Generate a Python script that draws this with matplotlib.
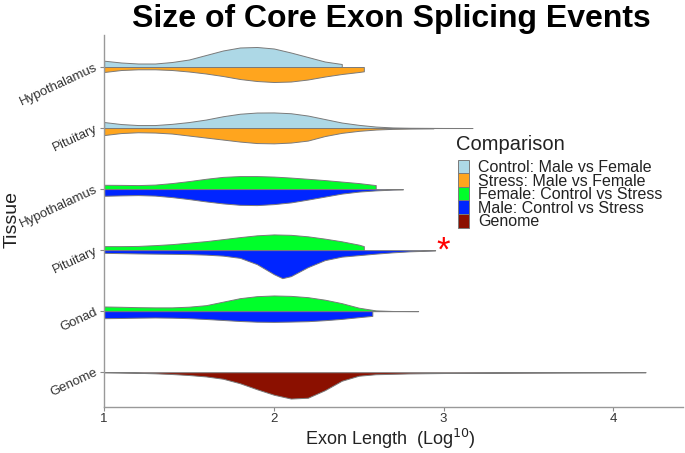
import numpy as np
import matplotlib
matplotlib.use("Agg")
from matplotlib import pyplot as plt
from matplotlib.patches import Patch

# rows from bottom to top
tissues = ["Genome", "Gonad", "Pituitary", "Hypothalamus", "Pituitary", "Hypothalamus"]
comparisons = ["Control: Male vs Female", "Stress: Male vs Female",
               "Female: Control vs Stress", "Male: Control vs Stress", "Genome"]
colors = ["#add8e6", "#ffa51e", "#00ff2a", "#0025ff", "#8b1000"]

hyp_mf_ctrl_x = [1.0, 1.1, 1.2, 1.3, 1.4, 1.5, 1.6, 1.7, 1.8, 1.9, 2.0, 2.1, 2.2, 2.3, 2.4]
hyp_mf_ctrl_d = [6.3, 4.5, 3.5, 3.5, 5, 7.5, 12, 16.5, 19.5, 20, 18.5, 14.5, 10, 5.5, 3]
hyp_mf_stress_x = [1.0, 1.1, 1.2, 1.3, 1.4, 1.5, 1.6, 1.7, 1.8, 1.9, 2.0, 2.1, 2.2, 2.3, 2.4, 2.5, 2.53]
hyp_mf_stress_d = [5, 3, 2.3, 2.3, 3, 4.5, 6.5, 9, 12, 14, 15, 14.5, 12.5, 9.5, 7, 5, 4.3]

pit_mf_ctrl_x = [1.0, 1.1, 1.2, 1.3, 1.4, 1.5, 1.6, 1.7, 1.8, 1.9, 2.0, 2.1, 2.2, 2.3, 2.4, 2.5, 2.6, 2.7, 2.8, 2.9, 3.0, 3.17]
pit_mf_ctrl_d = [6, 4, 3, 3, 4.2, 6, 8.5, 11.8, 14.3, 15.5, 15.6, 14.8, 12.5, 9, 5.5, 3.2, 1.5, 0.6, 0.3, 0.2, 0.1, 0.05]
pit_mf_stress_x = [1.0, 1.1, 1.2, 1.3, 1.4, 1.5, 1.6, 1.7, 1.8, 1.9, 2.0, 2.1, 2.2, 2.3, 2.4, 2.5, 2.6, 2.7, 2.8, 2.94]
pit_mf_stress_d = [7, 5, 4.2, 4.5, 5.5, 7.5, 9.5, 11.5, 13.5, 15, 15.3, 14.5, 12.5, 8, 4.8, 2.8, 1.5, 0.8, 0.5, 0.3]

hyp_f_cs_x = [1.0, 1.1, 1.2, 1.3, 1.4, 1.5, 1.6, 1.7, 1.8, 1.9, 2.0, 2.1, 2.2, 2.3, 2.4, 2.5, 2.6]
hyp_f_cs_d = [4.3, 4.2, 4, 4.5, 6, 8, 10.3, 12.2, 13, 13, 12.5, 11.5, 10.3, 9, 7.5, 6, 4]
hyp_m_cs_x = [1.0, 1.1, 1.2, 1.3, 1.4, 1.5, 1.6, 1.7, 1.8, 1.9, 2.0, 2.1, 2.2, 2.3, 2.4, 2.5, 2.6, 2.7, 2.76]
hyp_m_cs_d = [6.7, 6.3, 6, 6.5, 8, 10, 12.3, 14.3, 15.7, 16, 15, 13.3, 10.5, 7.5, 4.5, 2.5, 1.3, 0.5, 0.3]

pit_f_cs_x = [1.0, 1.1, 1.2, 1.3, 1.4, 1.5, 1.6, 1.7, 1.8, 1.9, 2.0, 2.1, 2.2, 2.3, 2.4, 2.5, 2.53]
pit_f_cs_d = [4, 4, 4.2, 5, 6, 7.5, 9, 11, 13, 14.8, 15.7, 15.3, 13.8, 11.5, 8.8, 5.5, 4]
pit_m_cs_x = [1.0, 1.1, 1.2, 1.3, 1.4, 1.5, 1.6, 1.7, 1.8, 1.9, 2.0, 2.05, 2.1, 2.2, 2.3, 2.4, 2.5, 2.6, 2.7, 2.8, 2.9, 2.95]
pit_m_cs_d = [2.7, 3, 3.3, 3.5, 3.7, 4, 4.5, 5.5, 7.7, 14, 24, 28, 26, 17, 10, 6.5, 5, 3.5, 2.2, 1.2, 0.6, 0.3]

gon_f_cs_x = [1.0, 1.1, 1.2, 1.3, 1.4, 1.5, 1.6, 1.7, 1.8, 1.9, 2.0, 2.1, 2.2, 2.3, 2.4, 2.5, 2.6, 2.7, 2.85]
gon_f_cs_d = [4.7, 4.4, 4, 3.8, 3.8, 4.5, 6, 9.5, 13, 15, 15.7, 15.3, 14, 11.5, 8, 3.5, 0.8, 0.2, 0.1]
gon_m_cs_x = [1.0, 1.1, 1.2, 1.3, 1.4, 1.5, 1.6, 1.7, 1.8, 1.9, 2.0, 2.1, 2.2, 2.3, 2.4, 2.5, 2.58]
gon_m_cs_d = [7, 6.8, 6.5, 6.3, 6.5, 7, 7.8, 8.8, 9.8, 10.5, 10.7, 10.4, 10, 9, 7.7, 6, 4.7]

genome_x = [1.0, 1.1, 1.2, 1.3, 1.4, 1.5, 1.6, 1.7, 1.8, 1.9, 2.0, 2.1, 2.2, 2.3, 2.4, 2.5, 2.6, 2.8, 3.0, 3.5, 4.0, 4.19]
genome_d = [0, 0.3, 0.6, 1.1, 1.8, 2.8, 4.2, 6.5, 11, 17, 22.5, 26.3, 25.5, 18, 8.5, 3.5, 2, 1.2, 0.8, 0.4, 0.1, 0]

# (row, side, colour index, x, density)   side +1 = above, -1 = below
halves = [
    (6, 1, 0, hyp_mf_ctrl_x, hyp_mf_ctrl_d),
    (6, -1, 1, hyp_mf_stress_x, hyp_mf_stress_d),
    (5, 1, 0, pit_mf_ctrl_x, pit_mf_ctrl_d),
    (5, -1, 1, pit_mf_stress_x, pit_mf_stress_d),
    (4, 1, 2, hyp_f_cs_x, hyp_f_cs_d),
    (4, -1, 3, hyp_m_cs_x, hyp_m_cs_d),
    (3, 1, 2, pit_f_cs_x, pit_f_cs_d),
    (3, -1, 3, pit_m_cs_x, pit_m_cs_d),
    (2, 1, 2, gon_f_cs_x, gon_f_cs_d),
    (2, -1, 3, gon_m_cs_x, gon_m_cs_d),
    (1, -1, 4, genome_x, genome_d),
]

plt.rcParams['font.family'] = ['Liberation Sans', 'DejaVu Sans']

fig = plt.figure(figsize=(6.85, 4.53), dpi=100)
ax = fig.add_axes([0.152, 0.1015, 0.845, 0.822])

scale = 1 / 61.0
for row, side, ci, xs, ds in halves:
    xs = np.array(xs)
    ds = np.array(ds) * scale
    ax.fill_between(xs, row, row + side * ds, facecolor=colors[ci],
                    edgecolor="#7a7a7a", linewidth=0.7, zorder=2)

# significance marker
ax.text(3.0, 2.98, "*", color="red", fontsize=25, ha="center", va="center")

ax.set_xlim(1.0, 4.41)
ax.set_ylim(0.43, 6.53)
ax.set_xticks([1, 2, 3, 4])
ax.set_yticks(range(1, 7))
ax.set_yticklabels(tissues, rotation=25, ha="right", va="center",
                   rotation_mode="anchor")
ax.tick_params(axis="both", colors="#888888", labelcolor="#333333", length=3)
ax.tick_params(axis="x", labelsize=9.5, pad=1)
ax.tick_params(axis="y", labelsize=9.5, pad=2)
for s in ["top", "right"]:
    ax.spines[s].set_visible(False)
for s in ["left", "bottom"]:
    ax.spines[s].set_color("#999999")
    ax.spines[s].set_linewidth(1.0)

fig.text(0.570, 0.030, "Exon Length  (Log$^{10}$)", fontsize=13, color="#222222",
         ha="center", va="center")
fig.text(0.018, 0.515, "Tissue", fontsize=14, color="#222222", rotation=90,
         ha="center", va="center")

fig.text(0.571, 0.958, "Size of Core Exon Splicing Events", fontsize=23,
         fontweight="bold", ha="center", va="center")

fig.text(0.666, 0.680, "Comparison", fontsize=14.5, color="#222222",
         ha="left", va="center")
handles = [Patch(facecolor=c, edgecolor="#7a7a7a", linewidth=0.7) for c in colors]
leg = fig.legend(handles, comparisons, loc="upper left", bbox_to_anchor=(0.659, 0.661),
                 frameon=False, fontsize=11.5,
                 handlelength=0.7, handleheight=0.95, labelspacing=-0.12,
                 handletextpad=0.55, borderaxespad=0)
for t in leg.get_texts():
    t.set_color("#222222")

fig.savefig("out.png", dpi=100)
